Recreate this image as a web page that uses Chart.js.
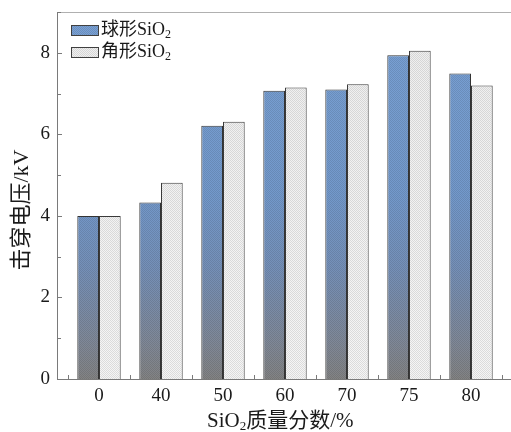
<!DOCTYPE html>
<html>
<head>
<meta charset="utf-8">
<script src="https://cdn.jsdelivr.net/npm/chart.js@4.4.1/dist/chart.umd.min.js"></script>
<style>
html,body{margin:0;padding:0;background:#fff;overflow:hidden;}
#wrap{width:511px;height:432px;}
</style>
</head>
<body>
<div id="wrap"><canvas id="c" width="511" height="432"></canvas></div>
<script>
const categories = ['0', '40', '50', '60', '70', '75', '80'];
const sphericalValues = [4.0, 4.33, 6.21, 7.07, 7.10, 7.94, 7.49];
const angularValues = [4.0, 4.81, 6.31, 7.15, 7.23, 8.05, 7.20];
const seriesNames = ['球形SiO|2', '角形SiO|2'];
const yTicks = [0, 2, 4, 6, 8];
const yTitle = '击穿电压/kV';
const xTitleParts = ['SiO', '2', '质量分数/%'];

const FONT = '"Liberation Serif", "Noto Sans CJK SC", serif';

function makePattern(stops, dotAlpha) {
  const H = 432;
  const oc = document.createElement('canvas');
  oc.width = 2; oc.height = H;
  const g = oc.getContext('2d');
  const grad = g.createLinearGradient(0, 0, 0, H);
  stops.forEach(s => grad.addColorStop(s[0], s[1]));
  g.fillStyle = grad;
  g.fillRect(0, 0, 2, H);
  g.fillStyle = 'rgba(0,0,0,' + dotAlpha + ')';
  for (let y = 0; y < H; y++) g.fillRect(y % 2, y, 1, 1);
  return document.getElementById('c').getContext('2d').createPattern(oc, 'repeat');
}

const bluePattern = makePattern([[0, '#7aa2d6'], [0.45, '#7399cb'], [0.62, '#7590b8'], [0.8, '#808896'], [0.88, '#838383'], [1, '#838383']], 0.10);
const lightPattern = makePattern([[0, '#eeeeee'], [0.5, '#f2f2f2'], [1, '#f6f6f6']], 0.10);

const framePlugin = {
  id: 'frame',
  afterDraw(chart) {
    const ctx = chart.ctx;
    const a = chart.chartArea;
    const ys = chart.scales.y, xs = chart.scales.x;
    const left = a.left - 11;
    const right = chart.width;
    ctx.save();
    ctx.lineWidth = 1;
    ctx.strokeStyle = '#b0b0b0';
    ctx.beginPath(); ctx.moveTo(left, a.top + 0.5); ctx.lineTo(right, a.top + 0.5); ctx.stroke();
    ctx.strokeStyle = '#7a7a7a';
    ctx.beginPath();
    ctx.moveTo(left + 0.5, a.top); ctx.lineTo(left + 0.5, a.bottom + 0.5);
    ctx.lineTo(right, a.bottom + 0.5);
    ctx.stroke();
    for (let v = ys.min; v <= ys.max; v += 1) {
      const py = Math.round(ys.getPixelForValue(v)) + 0.5;
      const len = (v % 2 === 0) ? 5 : 4;
      ctx.beginPath(); ctx.moveTo(left, py); ctx.lineTo(left + len, py); ctx.stroke();
    }
    const n = categories.length;
    for (let i = 0; i <= n; i++) {
      const px = Math.round(xs.getPixelForValue(i - 0.5)) + 0.5;
      ctx.beginPath(); ctx.moveTo(px, a.bottom); ctx.lineTo(px, a.bottom - 4); ctx.stroke();
    }
    const pats = [bluePattern, lightPattern];
    chart.data.datasets.forEach((ds, i) => {
      const sy = 25 + i * 22;
      ctx.fillStyle = pats[i];
      ctx.fillRect(71, sy, 28, 10);
      ctx.strokeStyle = '#404040';
      ctx.strokeRect(71.5, sy + 0.5, 27, 10);
      const parts = seriesNames[i].split('|');
      ctx.fillStyle = '#1a1a1a';
      ctx.textBaseline = 'middle';
      ctx.textAlign = 'left';
      ctx.font = '18px ' + FONT;
      let x = 101;
      ctx.fillText(parts[0], x, sy + 5);
      x += ctx.measureText(parts[0]).width;
      ctx.font = '12px ' + FONT;
      ctx.fillText(parts[1], x, sy + 10);
    });
    ctx.fillStyle = '#1a1a1a';
    ctx.textBaseline = 'alphabetic';
    ctx.font = '21px ' + FONT;
    const w0 = ctx.measureText(xTitleParts[0]).width;
    const w2 = ctx.measureText(xTitleParts[2]).width;
    ctx.font = '13px ' + FONT;
    const w1 = ctx.measureText(xTitleParts[1]).width;
    const total = w0 + w1 + w2;
    let tx = 207;
    const ty = 427;
    ctx.font = '21px ' + FONT;
    ctx.fillText(xTitleParts[0], tx, ty);
    tx += w0;
    ctx.font = '13px ' + FONT;
    ctx.fillText(xTitleParts[1], tx, ty + 3);
    tx += w1;
    ctx.font = '21px ' + FONT;
    ctx.fillText(xTitleParts[2], tx, ty);
    ctx.save();
    ctx.translate(22, 210);
    ctx.rotate(-Math.PI / 2);
    ctx.textAlign = 'center';
    ctx.textBaseline = 'middle';
    ctx.font = '22px ' + FONT;
    ctx.fillText(yTitle, 0, 0);
    ctx.restore();
    ctx.restore();
  }
};

new Chart(document.getElementById('c'), {
  type: 'bar',
  data: {
    labels: categories,
    datasets: [
      { label: seriesNames[0], data: sphericalValues, backgroundColor: bluePattern, borderColor: '#333333', borderWidth: 1, borderSkipped: 'bottom' },
      { label: seriesNames[1], data: angularValues, backgroundColor: lightPattern, borderColor: '#3a3a3a', borderWidth: 1, borderSkipped: 'bottom' }
    ]
  },
  options: {
    responsive: false,
    animation: false,
    devicePixelRatio: 1,
    layout: { padding: { top: 12, right: 9, left: 0, bottom: 0 } },
    plugins: { legend: { display: false }, tooltip: { enabled: false } },
    datasets: { bar: { categoryPercentage: 0.7, barPercentage: 1.0 } },
    scales: {
      x: {
        grid: { display: false, drawTicks: false },
        border: { display: false },
        ticks: { padding: 6, color: '#1a1a1a', font: { family: FONT, size: 19 }, maxRotation: 0 },
        afterFit(s) { s.height = 53; s.paddingLeft = 0; s.paddingRight = 0; }
      },
      y: {
        min: 0, max: 9,
        grid: { display: false, drawTicks: false },
        border: { display: false },
        afterBuildTicks(s) { s.ticks = yTicks.map(v => ({ value: v })); },
        ticks: { padding: 18, color: '#1a1a1a', font: { family: FONT, size: 19 } },
        afterFit(s) { s.width = 68; s.paddingTop = 0; s.paddingBottom = 0; }
      }
    }
  },
  plugins: [framePlugin]
});
</script>
</body>
</html>
